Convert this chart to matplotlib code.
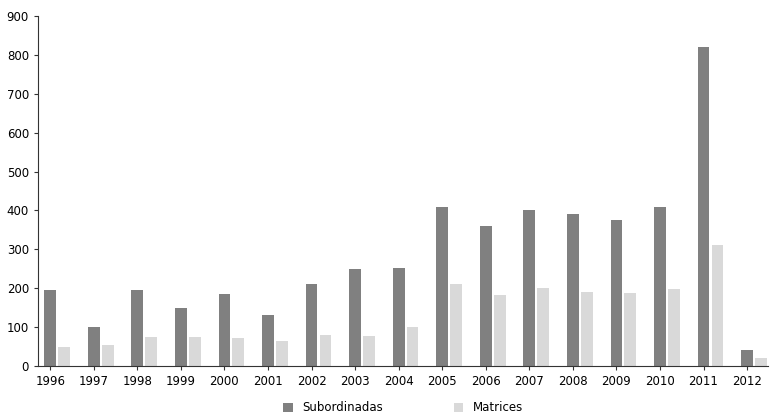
import numpy as np
import matplotlib.pyplot as plt

years = [str(y) for y in range(1996, 2013)]
subordinadas = [195, 100, 195, 150, 185, 130, 210, 250, 252, 410, 360, 400, 390, 375, 410, 820, 40]
matrices = [50, 55, 75, 75, 72, 65, 80, 78, 100, 210, 183, 200, 190, 187, 198, 310, 20]

fig = plt.figure(figsize=(7.73, 4.18), dpi=100)
ax = fig.add_axes([38/773, 52/418, 730/773, 350/418])

x = np.arange(len(years))
w = 0.27
ax.bar(x, subordinadas, w, color='#808080', label='Subordinadas')
ax.bar(x + 0.32, matrices, w, color='#d9d9d9', label='Matrices')

ax.set_xlim(-0.28, 16.48)
ax.set_ylim(0, 900)
ax.set_yticks(range(0, 901, 100))
ax.set_xticks(x)
ax.set_xticklabels(years)
ax.tick_params(labelsize=8.5, length=3, color='#333333')
for s in ['top', 'right']:
    ax.spines[s].set_visible(False)
ax.spines['left'].set_color('#333333')
ax.spines['bottom'].set_color('#333333')

ax.legend(loc='upper center', bbox_to_anchor=(0.5, -0.07), ncol=2, frameon=False,
          fontsize=8.5, handlelength=0.8, handleheight=0.8, columnspacing=6)

fig.savefig('out.png', dpi=100)
